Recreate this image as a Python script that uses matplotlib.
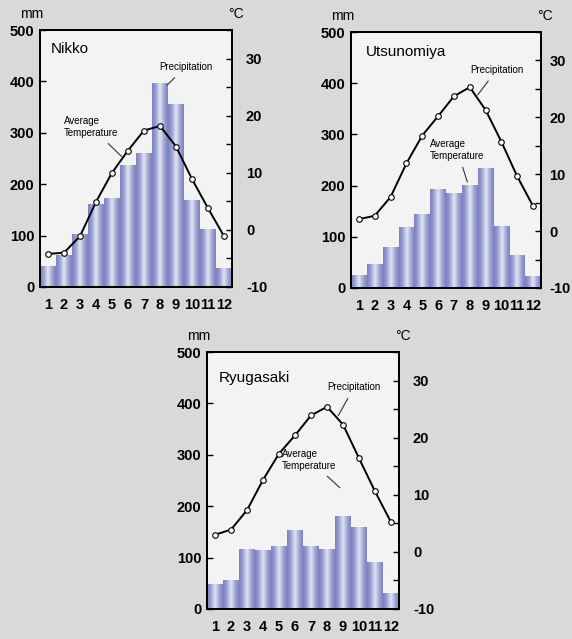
import numpy as np
import matplotlib
matplotlib.use("Agg")
import matplotlib.pyplot as plt
from matplotlib.colors import LinearSegmentedColormap

plt.rcParams['font.family'] = ['Liberation Sans', 'DejaVu Sans']

months = list(range(1, 13))
month_labels = [str(m) for m in months]

stations = ["Nikko", "Utsunomiya", "Ryugasaki"]

nikko_precip = [41, 62, 104, 161, 174, 237, 261, 396, 357, 169, 112, 36]
nikko_temp = [-4.2, -4.0, -1.1, 4.9, 10.0, 13.9, 17.4, 18.2, 14.6, 8.9, 3.8, -1.1]

utsunomiya_precip = [25, 46, 81, 120, 144, 193, 185, 202, 234, 121, 64, 23]
utsunomiya_temp = [2.1, 2.7, 6.0, 11.9, 16.8, 20.2, 23.7, 25.3, 21.3, 15.7, 9.6, 4.4]

ryugasaki_precip = [49, 56, 116, 114, 122, 153, 122, 116, 181, 160, 91, 32]
ryugasaki_temp = [3.0, 3.9, 7.3, 12.6, 17.2, 20.4, 23.9, 25.4, 22.3, 16.4, 10.6, 5.2]

precip_ticks = [0, 100, 200, 300, 400, 500]
temp_ticks = [-10, 0, 10, 20, 30]

W, H = 572, 639
fig = plt.figure(figsize=(W / 100, H / 100), dpi=100)
fig.patch.set_facecolor('#d9d9d9')

# axes boxes in pixels: left, top, right, bottom
boxes = [(40, 30, 232, 287), (351, 32, 541, 288), (207, 352, 399, 609)]
data = [(nikko_precip, nikko_temp), (utsunomiya_precip, utsunomiya_temp),
        (ryugasaki_precip, ryugasaki_temp)]
title_pos = [(0.055, 0.955), (0.08, 0.95), (0.06, 0.925)]
right_pad = [10, 6, 10]
# annotation placements (text xy, arrow tip) in (month, mm) data units
precip_ann = [((9.6, 428), (8.45, 393)), ((9.7, 426), (8.5, 377)), ((9.7, 432), (8.7, 376))]
temp_ann = [((3.7, 311), (5.6, 254)), ((7.2, 270), (7.85, 207)), ((6.9, 290), (8.8, 236))]

cmap = LinearSegmentedColormap.from_list('bar', ['#7a80bf', '#9ca2d2', '#e4e7f6', '#a4aad6', '#7a80bf'])
grad = np.linspace(0, 1, 64)[None, :]

for i, name in enumerate(stations):
    l, t, r, b = boxes[i]
    ax = fig.add_axes([l / W, (H - b) / H, (r - l) / W, (b - t) / H])
    ax.set_facecolor('#f3f3f3')
    precip, temp = data[i]
    bars = ax.bar(months, precip, width=1.0, color='#9aa0d0', edgecolor='none', zorder=2)
    for bar in bars:
        x0 = bar.get_x(); w = bar.get_width(); h = bar.get_height()
        im = ax.imshow(grad, cmap=cmap, aspect='auto', extent=[x0, x0 + w, 0, h],
                       zorder=2.1, interpolation='bicubic')
        im.set_clip_path(bar)
    ax.set_xlim(0.5, 12.5)
    ax.set_ylim(0, 500)
    ax.set_xticks(months)
    ax.set_xticklabels(month_labels)
    ax.set_yticks(precip_ticks)
    ax.tick_params(axis='y', direction='in', length=4, width=1, pad=4,
                   labelsize=10.5)
    ax.tick_params(axis='x', length=0, pad=8, labelsize=10.5)
    for lab in ax.get_xticklabels() + ax.get_yticklabels():
        lab.set_fontweight('bold')
    for s in ax.spines.values():
        s.set_linewidth(1.4)

    ax2 = ax.twinx()
    ax2.plot(months, temp, color='black', lw=1.4, marker='o', ms=4,
             mfc='white', mec='black', mew=0.8, zorder=5)
    ax2.set_ylim(-10, 35)
    ax2.set_yticks(np.arange(-10, 36, 5))
    ax2.set_yticklabels([str(v) if v in temp_ticks else '' for v in np.arange(-10, 36, 5)])
    ax2.tick_params(axis='y', direction='in', length=4, width=1, pad=right_pad[i],
                    labelsize=10.5)
    for lab in ax2.get_yticklabels():
        lab.set_fontweight('bold')
    for s in ax2.spines.values():
        s.set_linewidth(1.4)

    ax.text(title_pos[i][0], title_pos[i][1], name, transform=ax.transAxes,
            ha='left', va='top', fontsize=11, zorder=6)
    ax.text(-0.045, 1.035, 'mm', transform=ax.transAxes, ha='center', va='bottom',
            fontsize=10)
    ax.text(1.02, 1.035, '°C', transform=ax.transAxes, ha='center', va='bottom',
            fontsize=10)

    (ptxt, ptip) = precip_ann[i]
    (ttxt, ttip) = temp_ann[i]
    ax2.annotate('Precipitation', xy=ax2.transData.inverted().transform(ax.transData.transform(ptip)),
                 xytext=ax2.transData.inverted().transform(ax.transData.transform(ptxt)),
                 ha='center', va='center', fontsize=7,
                 arrowprops=dict(arrowstyle='-', color='#333333', lw=0.8, shrinkA=3, shrinkB=0),
                 zorder=6)
    ax2.annotate('Average\nTemperature', xy=ax2.transData.inverted().transform(ax.transData.transform(ttip)),
                 xytext=ax2.transData.inverted().transform(ax.transData.transform(ttxt)),
                 ha='center', va='center', fontsize=7, multialignment='left',
                 arrowprops=dict(arrowstyle='-', color='#333333', lw=0.8, shrinkA=3, shrinkB=0),
                 zorder=6)

fig.savefig('out.png', dpi=100, facecolor=fig.get_facecolor())
